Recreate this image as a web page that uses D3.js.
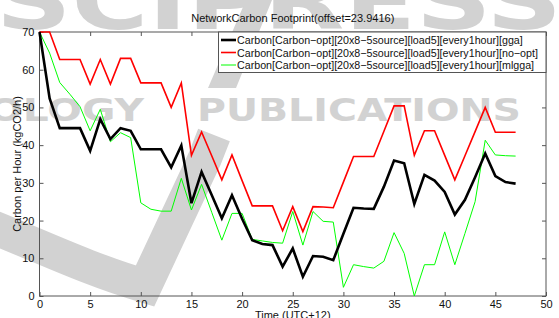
<html>
<head>
<title>NetworkCarbon Footprint</title>
<script src="https://d3js.org/d3.v7.min.js" charset="utf-8"></script>
<style>
  body { margin: 0; background: #fff; }
  text { font-family: "Liberation Sans", Arial, sans-serif; }
</style>
</head>
<body>
<script type="text/javascript">

// hours 0..47
var hours = d3.range(0, 48);

var gga = [70, 52.4, 44.5, 44.5, 44.5, 38.5, 46.9, 41.6, 44.5, 43.8,
           38.9, 38.9, 38.9, 34.1, 39.9, 24.6, 32.9, 26.8, 20.6, 26.7,
           20.5, 14.8, 13.8, 13.5, 7.8, 12.6, 5.1, 10.6, 10.4, 9.5,
           16.5, 23.4, 23.2, 23.1, 29, 35.9, 35.2, 24.4, 32.1, 30.6,
           27.6, 21.6, 25.5, 31.5, 37.8, 31.8, 30.2, 29.8];

var noopt = [70, 70, 62.7, 62.7, 62.7, 56.2, 62.7, 56.2, 63, 63,
             56.5, 56.5, 56.5, 50, 56.5, 37.3, 43.5, 37.2, 30.8, 37.4,
             30.6, 23.9, 23.9, 23.9, 17.3, 23.7, 17.1, 23.7, 23.6, 23.4,
             30.2, 37, 37, 37, 43.7, 50.4, 50.4, 37.3, 43.8, 43.8,
             37.3, 30.8, 37.2, 43.6, 50, 43.4, 43.4, 43.4];

var mlgga = [70, 64.4, 56.6, 53.5, 50.2, 43.8, 49.5, 40.9, 43.3, 42,
             24.7, 23, 22.5, 22.5, 31.2, 22.8, 29.6, 22.2, 14.8, 21.9,
             21.9, 15, 14.6, 14.2, 14, 22.4, 13.5, 22.4, 19.8, 19.6,
             2.3, 8.3, 7.8, 7.4, 9.2, 16.8, 11.3, 0, 8.3, 8.3,
             17, 8.3, 16.6, 25, 41.3, 37.4, 37.2, 37.1];

var seriesNames = ["Carbon[Carbon\u2212opt][20x8\u22125source][load5][every1hour][gga]",
                   "Carbon[Carbon\u2212opt][20x8\u22125source][load5][every1hour][no\u2212opt]",
                   "Carbon[Carbon\u2212opt][20x8\u22125source][load5][every1hour][mlgga]"];
var seriesColors = ["#000000", "#ff0000", "#00ff00"];
var seriesWidths = [2.6, 1.6, 1];

var xTicks = [0, 5, 10, 15, 20, 25, 30, 35, 40, 45, 50];
var yTicks = [0, 10, 20, 30, 40, 50, 60, 70];

var w = 559;
var h = 318;
// plot box (note: "top" is a reserved window prop, so prefix these)
var pLeft = 39.5, pRight = 546, pTop = 32, pBottom = 296;

var svg = d3.select("body")
            .append("svg")
            .attr("width", w)
            .attr("height", h);

var x = d3.scaleLinear().domain([0, 50]).range([pLeft, pRight]);
var y = d3.scaleLinear().domain([0, 70]).range([pBottom, pTop]);

var axisColor = "#555";

// watermark layer under everything (publisher stamp)
var wm = svg.append("g").attr("fill", "#d2d2d2");

wm.append("text")
    .attr("x", -4).attr("y", 29)
    .style("font-family", "'DejaVu Sans', sans-serif")
    .style("font-weight", "bold")
    .style("font-size", "78px")
    .attr("textLength", 566)
    .attr("lengthAdjust", "spacingAndGlyphs")
    .text("SCIPRESS");

wm.append("text")
    .attr("x", -12).attr("y", 121)
    .style("font-family", "'DejaVu Sans', sans-serif")
    .style("font-weight", "bold")
    .style("font-size", "32px")
    .attr("textLength", 156)
    .attr("lengthAdjust", "spacingAndGlyphs")
    .text("OLOGY");

wm.append("text")
    .attr("x", 197).attr("y", 121)
    .style("font-family", "'DejaVu Sans', sans-serif")
    .style("font-weight", "bold")
    .style("font-size", "32px")
    .attr("textLength", 324)
    .attr("lengthAdjust", "spacingAndGlyphs")
    .text("PUBLICATIONS");

// swoosh
wm.append("path")
    .attr("d", "M-10,226 C40,246 90,270 145,286 L 205,158 L 214,135")
    .attr("fill", "none")
    .attr("stroke", "#d2d2d2")
    .attr("stroke-width", 34)
    .attr("stroke-linejoin", "miter");

// diagonal stroke of the stamp
wm.append("path")
    .attr("d", "M208,88 L236,88 L272,0 L246,0 Z");

// axes box
svg.append("rect")
    .attr("x", pLeft).attr("y", pTop)
    .attr("width", pRight - pLeft).attr("height", pBottom - pTop)
    .attr("fill", "none")
    .attr("stroke", axisColor)
    .attr("stroke-width", 1);

function styleAxis(g) {
    g.select(".domain").remove();
    g.selectAll("line").attr("stroke", axisColor);
    g.selectAll("text").attr("fill", "#111").style("font-size", "11px")
        .style("font-family", "'Liberation Sans', Arial, sans-serif");
}

svg.append("g")
    .attr("transform", "translate(0," + pBottom + ")")
    .call(d3.axisBottom(x).tickValues(xTicks).tickSize(-4).tickPadding(4))
    .call(styleAxis);

svg.append("g")
    .attr("transform", "translate(0," + pTop + ")")
    .call(d3.axisTop(x).tickValues(xTicks).tickSize(-4).tickFormat(""))
    .call(styleAxis);

svg.append("g")
    .attr("transform", "translate(" + pLeft + ",0)")
    .call(d3.axisLeft(y).tickValues(yTicks).tickSize(-4).tickPadding(5))
    .call(styleAxis);

svg.append("g")
    .attr("transform", "translate(" + pRight + ",0)")
    .call(d3.axisRight(y).tickValues(yTicks).tickSize(-4).tickFormat(""))
    .call(styleAxis);

// series lines
var allSeries = [gga, noopt, mlgga];
var line = d3.line()
    .x(function(d, i) { return x(hours[i]); })
    .y(function(d) { return y(d); });

// draw red and green below black
[1, 2, 0].forEach(function(k) {
    svg.append("path")
        .datum(allSeries[k])
        .attr("d", line)
        .attr("fill", "none")
        .attr("stroke", seriesColors[k])
        .attr("stroke-width", seriesWidths[k])
        .attr("stroke-linejoin", "miter");
});

// title and labels
svg.append("text")
    .attr("x", (pLeft + pRight) / 2).attr("y", 21.5)
    .attr("text-anchor", "middle")
    .style("font-size", "11px")
    .attr("fill", "#111")
    .text("NetworkCarbon Footprint(offset=23.9416)");

svg.append("text")
    .attr("x", (pLeft + pRight) / 2).attr("y", 319)
    .attr("text-anchor", "middle")
    .style("font-size", "11px")
    .attr("fill", "#111")
    .text("Time (UTC+12)");

svg.append("text")
    .attr("transform", "translate(21,164) rotate(-90)")
    .attr("text-anchor", "middle")
    .style("font-size", "11px")
    .attr("fill", "#111")
    .text("Carbon per Hour (kgCO2/h)");

// legend
var lg = svg.append("g");
lg.append("rect")
    .attr("x", 218.5).attr("y", 32)
    .attr("width", 327.5).attr("height", 40.5)
    .attr("fill", "#fff")
    .attr("stroke", axisColor);

seriesNames.forEach(function(name, i) {
    var ly = 40 + i * 12.5;
    lg.append("line")
        .attr("x1", 221).attr("x2", 236)
        .attr("y1", ly).attr("y2", ly)
        .attr("stroke", seriesColors[i])
        .attr("stroke-width", seriesWidths[i]);
    lg.append("text")
        .attr("x", 237).attr("y", ly + 4)
        .style("font-size", "10.7px")
        .attr("fill", "#111")
        .text(name);
});

</script>
</body>
</html>
